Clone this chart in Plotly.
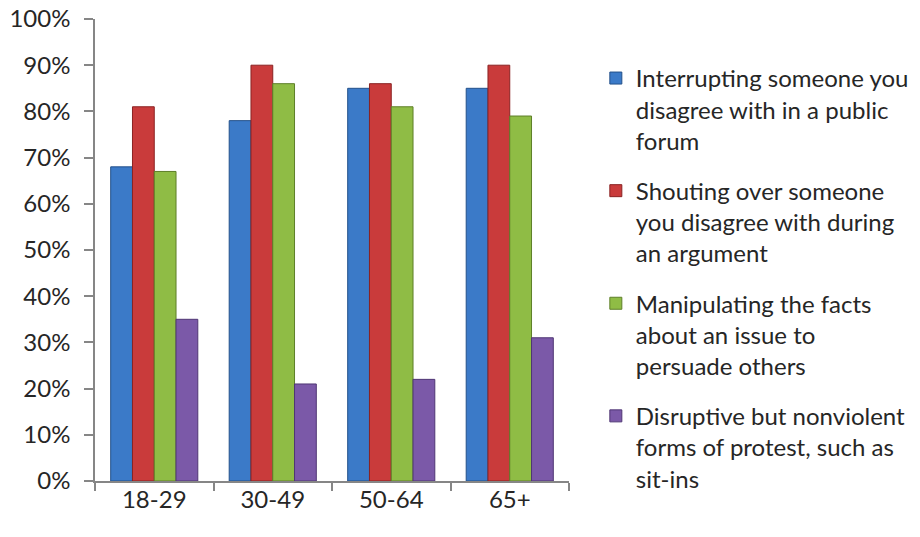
import plotly.graph_objects as go

categories = ["18-29", "30-49", "50-64", "65+"]
series_names = [
    "Interrupting someone you<br>disagree with in a public<br>forum",
    "Shouting over someone<br>you disagree with during<br>an argument",
    "Manipulating the facts<br>about an issue to<br>persuade others",
    "Disruptive but nonviolent<br>forms of protest, such as<br>sit-ins",
]
interrupting = [0.68, 0.78, 0.85, 0.85]
shouting = [0.81, 0.90, 0.86, 0.90]
manipulating = [0.67, 0.86, 0.81, 0.79]
disruptive = [0.35, 0.21, 0.22, 0.31]
y_ticks = [0, 0.1, 0.2, 0.3, 0.4, 0.5, 0.6, 0.7, 0.8, 0.9, 1.0]

values = [interrupting, shouting, manipulating, disruptive]
colors = ["#3b7ac8", "#c93b3b", "#8fbc45", "#7b59a8"]
edges = ["#23508a", "#8a2222", "#5e7f28", "#4f3674"]

FONT = "Lato, Carlito, Calibri, sans-serif"

fig = go.Figure()
for i, (name, vals) in enumerate(zip(series_names, values)):
    fig.add_trace(go.Bar(
        x=categories, y=vals, name=name,
        marker=dict(color=colors[i], line=dict(color=edges[i], width=1)),
        legendgroup=str(i),
    ))

fig.update_layout(
    width=920, height=537,
    paper_bgcolor="white", plot_bgcolor="white",
    barmode="group", bargap=0.265, bargroupgap=0,
    margin=dict(l=95, r=351, t=19, b=56, autoexpand=False),
    font=dict(family=FONT, size=24, color="#262626"),
    showlegend=True,
    legend=dict(
        x=1.0566, y=0.92, xanchor="left", yanchor="top",
        font=dict(family=FONT, size=24, color="#262626"),
        valign="top", tracegroupgap=16, itemwidth=30,
        bgcolor="rgba(0,0,0,0)", maxheight=537,
    ),
    xaxis=dict(
        type="category", showline=True, linecolor="#868686", linewidth=1.5,
        ticks="outside", tickson="boundaries", ticklen=8, tickcolor="#868686",
        tickwidth=1.5, showgrid=False, tickfont=dict(size=24, color="#262626"),
        automargin=False, ticklabelstandoff=-4, ticklabeloverflow="allow",
    ),
    yaxis=dict(
        range=[0, 1], tickvals=y_ticks, tickformat=".0%",
        showline=True, linecolor="#868686", linewidth=1.5,
        ticks="outside", ticklen=9, tickcolor="#868686", tickwidth=1.5,
        showgrid=False, zeroline=False, tickfont=dict(size=24, color="#262626"),
        automargin=False, ticklabelstandoff=9, ticklabeloverflow="allow",
    ),
)

fig.write_html("out.html", config={"displayModeBar": False},
               post_script="document.body.style.margin='0';")
